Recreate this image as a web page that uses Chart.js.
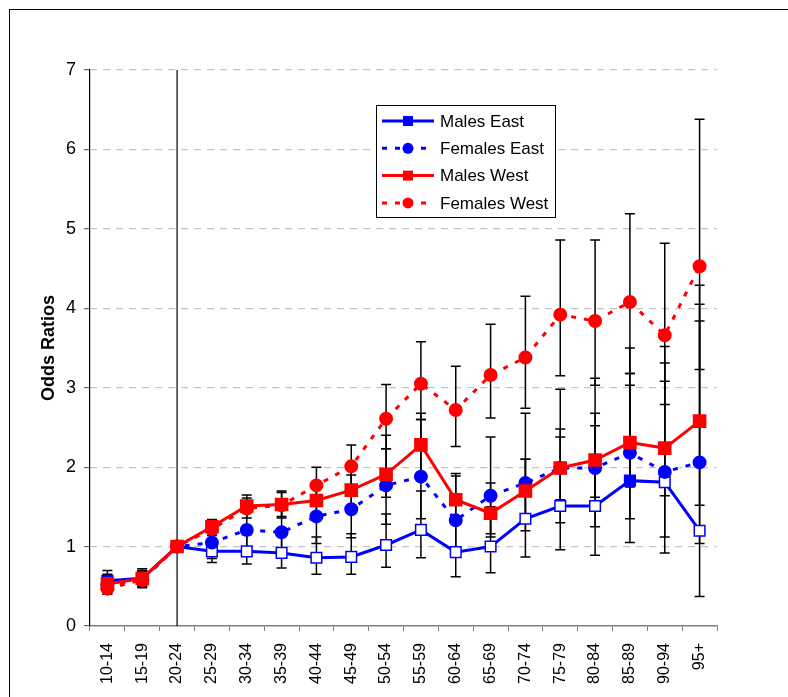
<!DOCTYPE html>
<html>
<head>
<meta charset="utf-8">
<script src="https://cdn.jsdelivr.net/npm/chart.js@4/dist/chart.umd.min.js"></script>
<style>
    body { margin: 0; background: #fff; overflow: hidden; }
    #wrap { position: relative; width: 788px; height: 697px; }
    #frame { position: absolute; left: 9px; top: 9px; width: 800px; height: 800px; border: 1.5px solid #000; }
    #chart { position: absolute; left: 0; top: 0; }
</style>
</head>
<body>
<div id="wrap">
    <div id="frame"></div>
    <canvas id="chart" width="788" height="697"></canvas>
</div>
<script>
const ageGroups = ['10-14', '15-19', '20-24', '25-29', '30-34', '35-39', '40-44', '45-49', '50-54',
    '55-59', '60-64', '65-69', '70-74', '75-79', '80-84', '85-89', '90-94', '95+'];

// odds ratios with lower / upper confidence limits (20-24 is the reference group)
const malesEast = [0.57, 0.60, 1.00, 0.94, 0.94, 0.92, 0.86, 0.87, 1.02, 1.21, 0.93, 1.00, 1.35, 1.51, 1.51, 1.83, 1.81, 1.20];
const malesEastLow = [0.48, 0.50, null, 0.80, 0.78, 0.73, 0.65, 0.65, 0.74, 0.86, 0.62, 0.67, 0.87, 0.96, 0.89, 1.05, 0.92, 0.37];
const malesEastHigh = [0.70, 0.72, null, 1.10, 1.15, 1.15, 1.12, 1.16, 1.41, 1.70, 1.38, 1.50, 2.10, 2.38, 2.52, 3.18, 3.52, 3.84];
const malesEastFilled = [true, true, true, false, false, false, false, false, false, false, false, false, false, false, false, true, false, false];

const femalesEast = [0.52, 0.58, 1.00, 1.05, 1.21, 1.18, 1.38, 1.47, 1.77, 1.88, 1.33, 1.64, 1.80, 1.99, 1.99, 2.18, 1.94, 2.06];
const femalesEastLow = [0.42, 0.48, null, 0.85, 0.95, 0.90, 1.04, 1.11, 1.28, 1.35, 0.92, 1.16, 1.20, 1.30, 1.25, 1.35, 1.12, 1.04];
const femalesEastHigh = [0.65, 0.70, null, 1.28, 1.50, 1.46, 1.80, 1.90, 2.40, 2.60, 1.89, 2.38, 2.68, 2.98, 3.12, 3.50, 3.31, 4.05];

const malesWest = [0.53, 0.60, 1.00, 1.25, 1.51, 1.53, 1.58, 1.71, 1.91, 2.28, 1.59, 1.42, 1.70, 1.99, 2.09, 2.31, 2.24, 2.58];
const malesWestLow = [0.44, 0.52, null, 1.16, 1.43, 1.38, 1.40, 1.48, 1.62, 1.93, 1.30, 1.12, 1.38, 1.59, 1.62, 1.75, 1.64, 1.52];
const malesWestHigh = [0.64, 0.69, null, 1.34, 1.65, 1.68, 1.78, 1.96, 2.23, 2.68, 1.92, 1.80, 2.10, 2.48, 2.68, 3.03, 3.08, 4.29];

const femalesWest = [0.47, 0.58, 1.00, 1.22, 1.48, 1.52, 1.77, 2.01, 2.61, 3.05, 2.72, 3.16, 3.38, 3.92, 3.84, 4.08, 3.66, 4.53];
const femalesWestLow = [0.40, 0.50, null, 1.14, 1.36, 1.36, 1.56, 1.76, 2.23, 2.60, 2.26, 2.62, 2.74, 3.15, 3.03, 3.18, 2.79, 3.23];
const femalesWestHigh = [0.56, 0.67, null, 1.30, 1.61, 1.70, 2.00, 2.28, 3.04, 3.58, 3.27, 3.80, 4.15, 4.86, 4.86, 5.19, 4.82, 6.38];

const referenceGroup = '20-24';

const BLUE = '#0000ff';
const RED = '#ff0000';
const FONT = '"Liberation Sans", Arial, sans-serif';

const datasets = [
    {
        label: 'Males East', data: malesEast, low: malesEastLow, high: malesEastHigh,
        borderColor: BLUE, borderWidth: 3, pointStyle: 'rect', pointRadius: 7.5,
        pointBorderColor: BLUE, pointBorderWidth: 1.5,
        pointBackgroundColor: malesEastFilled.map(f => f ? BLUE : '#ffffff'),
        order: 3
    },
    {
        label: 'Females East', data: femalesEast, low: femalesEastLow, high: femalesEastHigh,
        borderColor: BLUE, borderWidth: 3, borderDash: [5, 8], pointStyle: 'circle', pointRadius: 5.5,
        pointBorderColor: BLUE, pointBackgroundColor: BLUE,
        order: 2
    },
    {
        label: 'Males West', data: malesWest, low: malesWestLow, high: malesWestHigh,
        borderColor: RED, borderWidth: 3, pointStyle: 'rect', pointRadius: 7.5,
        pointBorderColor: RED, pointBackgroundColor: RED,
        order: 0
    },
    {
        label: 'Females West', data: femalesWest, low: femalesWestLow, high: femalesWestHigh,
        borderColor: RED, borderWidth: 3, borderDash: [5, 8], pointStyle: 'circle', pointRadius: 5.5,
        pointBorderColor: RED, pointBackgroundColor: RED,
        order: 1
    }
];

// error bars + the vertical line at the reference age group
const errorBars = {
    id: 'errorBars',
    beforeDatasetsDraw(chart) {
        const { ctx, chartArea, scales: { x, y } } = chart;
        ctx.save();
        ctx.strokeStyle = '#000';
        ctx.lineWidth = 1.2;
        const xr = x.getPixelForValue(ageGroups.indexOf(referenceGroup));
        ctx.beginPath();
        ctx.moveTo(xr, chartArea.top);
        ctx.lineTo(xr, chartArea.bottom);
        ctx.stroke();

        ctx.lineWidth = 1.5;
        chart.data.datasets.forEach(ds => {
            ds.data.forEach((v, i) => {
                if (ds.low[i] == null) return;
                const px = x.getPixelForValue(i);
                const y1 = y.getPixelForValue(ds.low[i]);
                const y2 = y.getPixelForValue(ds.high[i]);
                ctx.beginPath();
                ctx.moveTo(px, y1);
                ctx.lineTo(px, y2);
                ctx.moveTo(px - 5, y1);
                ctx.lineTo(px + 5, y1);
                ctx.moveTo(px - 5, y2);
                ctx.lineTo(px + 5, y2);
                ctx.stroke();
            });
        });
        ctx.restore();
    }
};

// legend box inside the plot
const boxLegend = {
    id: 'boxLegend',
    afterDraw(chart) {
        const { ctx, chartArea } = chart;
        const left = chartArea.left + 286;
        const top = chartArea.top + 35;
        const w = 179, h = 112;
        ctx.save();
        ctx.fillStyle = '#fff';
        ctx.fillRect(left, top, w, h);
        ctx.strokeStyle = '#000';
        ctx.lineWidth = 1;
        ctx.strokeRect(left + 0.5, top + 0.5, w, h);
        ctx.font = '17px ' + FONT;
        ctx.textBaseline = 'middle';
        chart.data.datasets.forEach((ds, i) => {
            const cy = top + 16 + i * 27.3;
            ctx.strokeStyle = ds.borderColor;
            ctx.lineWidth = 3;
            ctx.setLineDash(ds.borderDash || []);
            ctx.beginPath();
            ctx.moveTo(left + 6, cy);
            ctx.lineTo(left + 58, cy);
            ctx.stroke();
            ctx.setLineDash([]);
            ctx.fillStyle = ds.borderColor;
            if (ds.pointStyle === 'rect') {
                ctx.fillRect(left + 27, cy - 5, 10, 10);
            } else {
                ctx.beginPath();
                ctx.arc(left + 32, cy, 5.5, 0, Math.PI * 2);
                ctx.fill();
            }
            ctx.fillStyle = '#000';
            ctx.fillText(ds.label, left + 64, cy + 1);
        });
        ctx.restore();
    }
};

const ctx = document.getElementById('chart').getContext('2d');
new Chart(ctx, {
    type: 'line',
    data: { labels: ageGroups, datasets: datasets },
    options: {
        responsive: false,
        animation: false,
        layout: { padding: { left: 0, right: 71, top: 70, bottom: 0 } },
        plugins: { legend: { display: false }, tooltip: { enabled: false } },
        elements: { line: { tension: 0 } },
        scales: {
            x: {
                offset: true,
                grid: { offset: true, drawOnChartArea: false, tickLength: 5, color: '#808080' },
                border: { color: '#808080', width: 1.5 },
                ticks: {
                    color: '#000', font: { family: FONT, size: 16 },
                    minRotation: 90, maxRotation: 90, padding: 12, autoSkip: false
                },
                afterFit(scale) { scale.height = 71; }
            },
            y: {
                min: 0, max: 7,
                ticks: { stepSize: 1, color: '#000', font: { family: FONT, size: 18 }, padding: 8 },
                grid: {
                    color: c => c.tick && c.tick.value === 0 ? 'rgba(0,0,0,0)' : '#c4c4c4',
                    tickColor: '#666', tickLength: 6, lineWidth: 1.2
                },
                border: { color: '#000', width: 1.2, dash: [7, 6] },
                title: {
                    display: true, text: 'Odds Ratios', color: '#000',
                    font: { family: FONT, size: 18, weight: 'bold' },
                    padding: { top: 38, bottom: 0 }
                },
                afterFit(scale) { scale.width = 90; }
            }
        }
    },
    plugins: [errorBars, boxLegend]
});
</script>
</body>
</html>
